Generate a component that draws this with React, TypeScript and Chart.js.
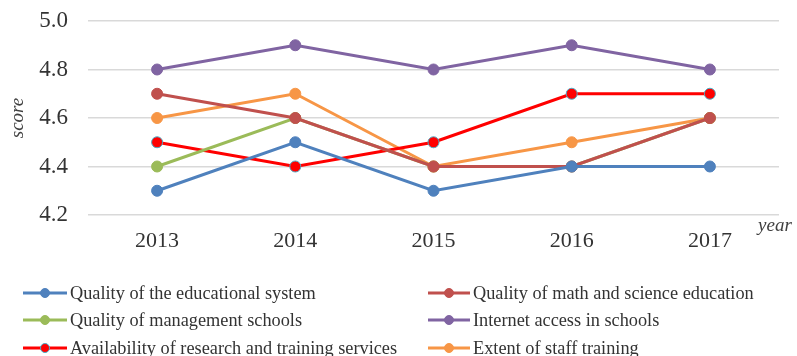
import React, { useEffect, useRef } from "react";
import { Chart, registerables } from "chart.js";

Chart.register(...registerables);

const years = ["2013", "2014", "2015", "2016", "2017"];
const seriesNames = [
  "Quality of the educational system",
  "Quality of math and science education",
  "Quality of management schools",
  "Internet access in schools",
  "Availability of research and training services",
  "Extent of staff training",
];
const educationalSystem = [4.3, 4.5, 4.3, 4.4, 4.4];
const mathScience = [4.7, 4.6, 4.4, 4.4, 4.6];
const managementSchools = [4.4, 4.6, 4.4, 4.4, 4.6];
const internetAccess = [4.8, 4.9, 4.8, 4.9, 4.8];
const researchServices = [4.5, 4.4, 4.5, 4.7, 4.7];
const staffTraining = [4.6, 4.7, 4.4, 4.5, 4.6];
const seriesValues = [
  educationalSystem,
  mathScience,
  managementSchools,
  internetAccess,
  researchServices,
  staffTraining,
];
const seriesColors = ["#4F81BD", "#C0504D", "#9BBB59", "#8064A2", "#FF0000", "#F79646"];
const pointBorders = ["#4F81BD", "#C0504D", "#9BBB59", "#8064A2", "#4BACC6", "#F79646"];
const yTicks = [4.2, 4.4, 4.6, 4.8, 5.0];

const SERIF = "'Liberation Serif', 'Times New Roman', serif";

const legendPlugin = {
  id: "customLegend",
  afterDraw(chart: any) {
    const ctx = chart.ctx;
    ctx.save();
    // x-axis title "year"
    ctx.font = `italic 19px ${SERIF}`;
    ctx.fillStyle = "#404040";
    ctx.textAlign = "center";
    ctx.textBaseline = "middle";
    ctx.fillText("year", 775, 226);

    const cols = [
      { line0: 23, line1: 67, text: 70 },
      { line0: 428, line1: 470, text: 473 },
    ];
    const rows = [293, 320, 348];
    chart.data.datasets.forEach((ds: any, i: number) => {
      const c = cols[i % 2];
      const y = rows[Math.floor(i / 2)];
      ctx.strokeStyle = ds.borderColor;
      ctx.lineWidth = 3;
      ctx.beginPath();
      ctx.moveTo(c.line0, y);
      ctx.lineTo(c.line1, y);
      ctx.stroke();
      ctx.fillStyle = ds.backgroundColor;
      ctx.beginPath();
      ctx.arc((c.line0 + c.line1) / 2, y, 4.5, 0, Math.PI * 2);
      ctx.fill();
      ctx.strokeStyle = ds.pointBorderColor;
      ctx.lineWidth = 1;
      ctx.stroke();
      ctx.fillStyle = "#333333";
      ctx.font = `18.3px ${SERIF}`;
      ctx.textAlign = "left";
      ctx.textBaseline = "middle";
      ctx.fillText(ds.label, c.text, y + 1);
    });
    ctx.restore();
  },
};

export default function App() {
  const canvasRef = useRef<HTMLCanvasElement | null>(null);

  useEffect(() => {
    if (!canvasRef.current) return;
    const chart = new Chart(canvasRef.current, {
      type: "line",
      data: {
        labels: years,
        datasets: seriesNames.map((name, i) => ({
          label: name,
          data: seriesValues[i],
          borderColor: seriesColors[i],
          backgroundColor: seriesColors[i],
          pointBackgroundColor: seriesColors[i],
          pointBorderColor: pointBorders[i],
          pointBorderWidth: 1,
          pointRadius: 5.5,
          borderWidth: 3,
          tension: 0,
          fill: false,
        })),
      },
      plugins: [legendPlugin],
      options: {
        responsive: false,
        maintainAspectRatio: false,
        animation: false,
        events: [],
        layout: { padding: { left: 0, right: 18, top: 21, bottom: 0 } },
        plugins: {
          legend: { display: false },
          tooltip: { enabled: false },
          title: { display: false },
        },
        scales: {
          x: {
            type: "category",
            offset: true,
            grid: { display: false, drawTicks: false },
            border: { display: false },
            ticks: {
              padding: 13,
              color: "#333333",
              font: { family: SERIF, size: 22 },
              maxRotation: 0,
            },
            afterFit: (s: any) => {
              s.height = 141;
              s.paddingLeft = 0;
              s.paddingRight = 0;
            },
          },
          y: {
            min: 4.2,
            max: 5.0,
            afterBuildTicks: (s: any) => {
              s.ticks = yTicks.map((v) => ({ value: v }));
            },
            grid: { color: "#D9D9D9", lineWidth: 1.5, drawTicks: false },
            border: { display: false },
            ticks: {
              padding: 20,
              color: "#333333",
              font: { family: SERIF, size: 23 },
              callback: (v: any) => Number(v).toFixed(1),
            },
            title: {
              display: true,
              text: "score",
              color: "#404040",
              font: { family: SERIF, size: 19, style: "italic" },
              padding: { top: 7, bottom: 0 },
            },
            afterFit: (s: any) => {
              s.width = 88;
              s.paddingTop = 0;
              s.paddingBottom = 0;
            },
          },
        },
      },
    });
    return () => chart.destroy();
  }, []);

  return (
    <div style={{ position: "fixed", left: 0, top: 0, width: 797, height: 356, background: "#fff" }}>
      <canvas ref={canvasRef} width={797} height={356} style={{ display: "block" }} />
    </div>
  );
}
